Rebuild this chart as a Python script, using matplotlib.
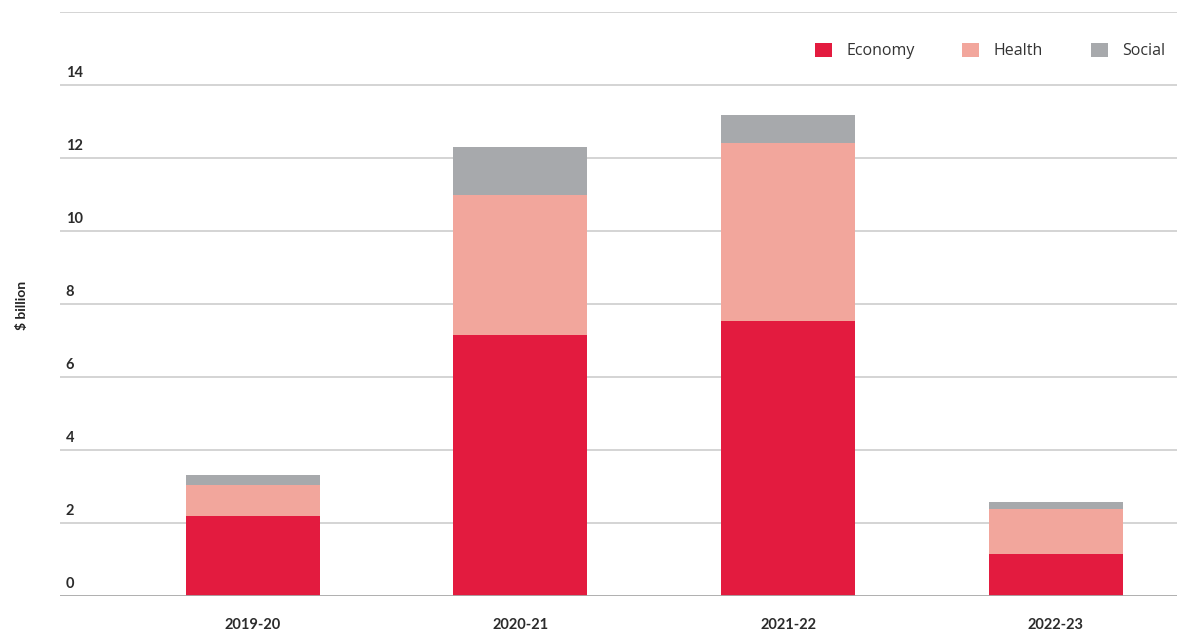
import matplotlib.pyplot as plt
import numpy as np

# COVID-19 response spending by area ($ billion)
years = ['2019-20', '2020-21', '2021-22', '2022-23']
economy = [2.19, 7.15, 7.53, 1.15]
health = [0.84, 3.83, 4.89, 1.23]
social = [0.29, 1.32, 0.76, 0.20]
y_ticks = [0, 2, 4, 6, 8, 10, 12, 14]

red = '#E31B3F'
salmon = '#F2A69C'
grey = '#A7A9AC'

plt.rcParams['font.family'] = ['Lato', 'DejaVu Sans']

fig = plt.figure(figsize=(11.77, 6.3), dpi=100)
ax = fig.add_axes([60 / 1177, (630 - 595.7) / 630, 1117 / 1177, (595.7 - 12) / 630])

x = np.arange(len(years))
w = 0.5
econ = np.array(economy)
hlth = np.array(health)
soc = np.array(social)

ax.bar(x, econ, w, color=red, label='Economy', zorder=3)
ax.bar(x, hlth, w, bottom=econ, color=salmon, label='Health', zorder=3)
ax.bar(x, soc, w, bottom=econ + hlth, color=grey, label='Social', zorder=3)

ax.set_xlim(-0.72, 3.453)
ax.set_ylim(0, 16)

# horizontal gridlines incl. the unlabelled one at 16
for v in y_ticks[1:] + [16]:
    ax.axhline(v, color='#c9c9c9', lw=1.1, zorder=1)
ax.axhline(0, color='#a8a8a8', lw=2.0, zorder=4)

# y labels sit above their gridline, left aligned
for v in y_ticks:
    ax.text(0.005, v + 0.14, str(v), transform=ax.get_yaxis_transform(),
            ha='left', va='bottom', fontsize=10.5, fontweight='bold', color='#2b2b2b')

ax.set_yticks([])
ax.set_xticks(x)
ax.set_xticklabels(years, fontsize=10.5, fontweight='bold', color='#2b2b2b')
ax.tick_params(axis='x', length=0, pad=16)
for s in ax.spines.values():
    s.set_visible(False)

fig.text(22 / 1177, 0.515, '$ billion', rotation=90, ha='center', va='center',
         fontsize=10, fontweight='bold', color='#222222')

fig.legend(loc='center right', bbox_to_anchor=(1173 / 1177, (630 - 51) / 630),
           ncol=3, frameon=False, prop={'family': 'Open Sans', 'size': 11.5},
           handlelength=1.05, handleheight=1.05,
           handletextpad=0.9, columnspacing=3.0, borderpad=0, labelcolor='#333333')

fig.savefig('out.png', dpi=100, facecolor='white')
